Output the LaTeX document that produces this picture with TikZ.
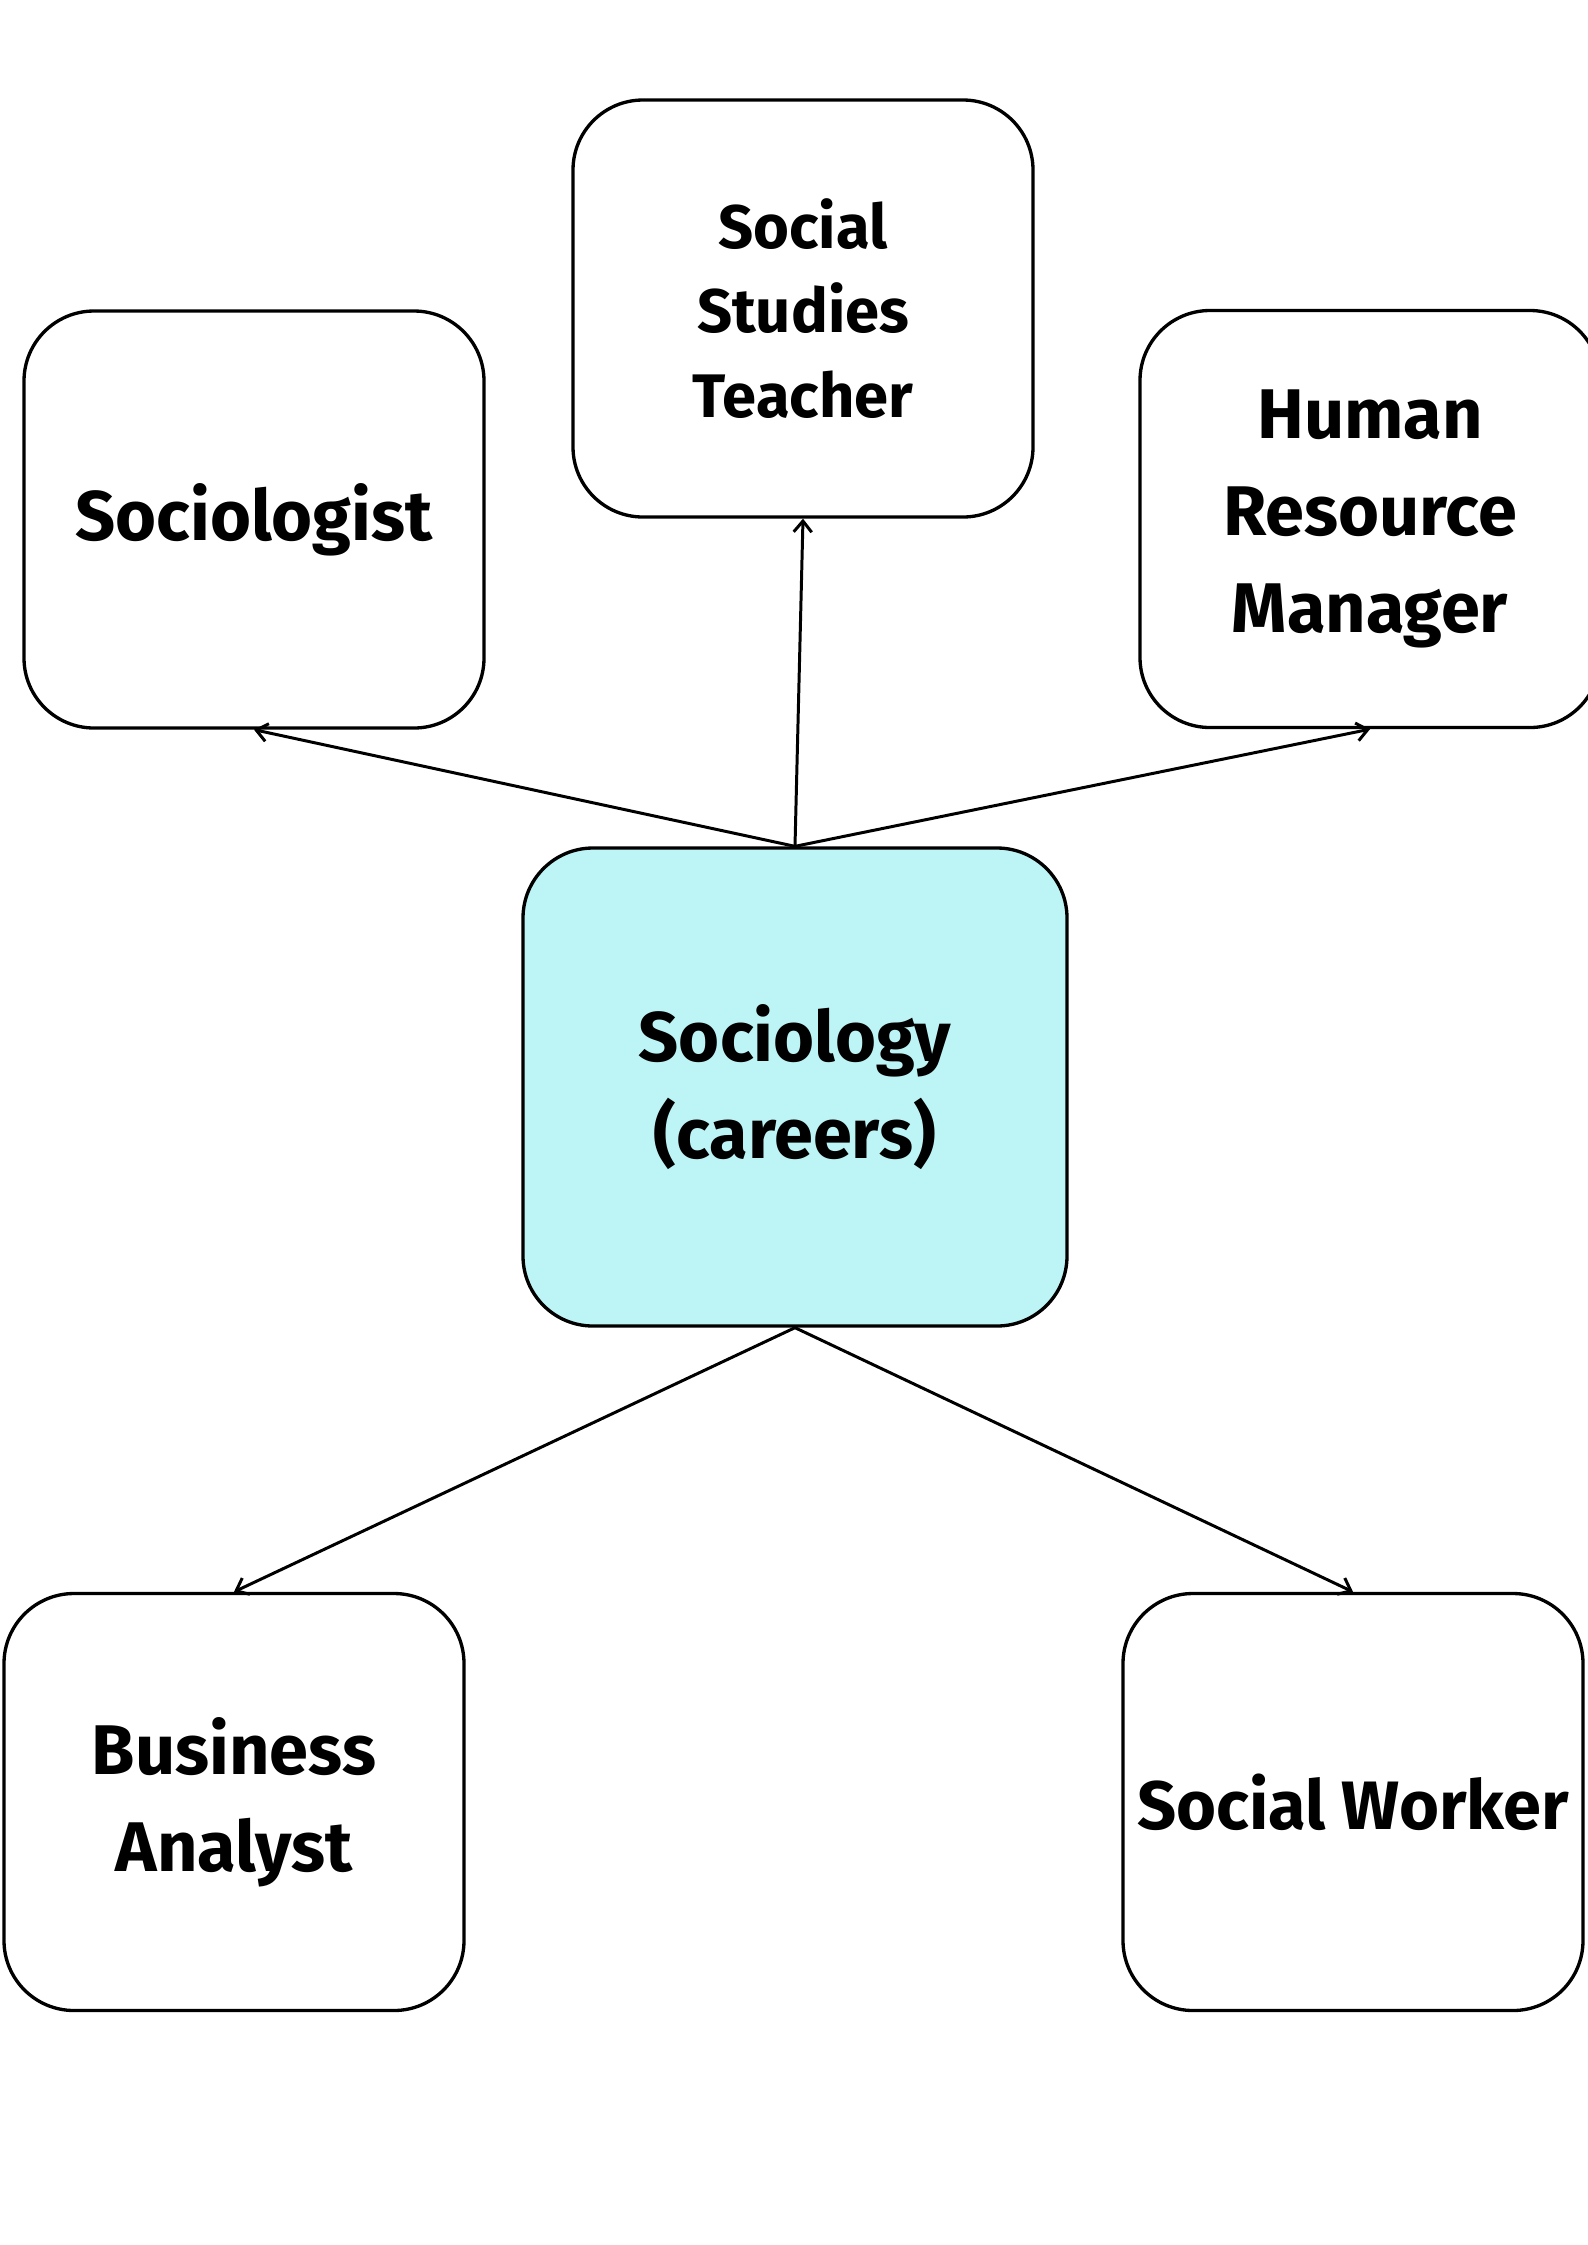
\documentclass[tikz,border=0pt]{standalone}
\usepackage{fontspec}
\setmainfont{Fira Sans}
\usepackage{tikz}
\usetikzlibrary{arrows.meta,positioning}
\definecolor{hubcyan}{RGB}{189,245,247}

\begin{document}
\begin{tikzpicture}[
  job/.style={draw, rounded corners=0.7cm, minimum width=4.6cm, minimum height=4.17cm,
    inner sep=0pt, align=center, line width=0.95pt,
    font=\bfseries\fontsize{20}{27.6}\selectfont},
  hub/.style={job, fill=hubcyan, minimum width=5.44cm, minimum height=4.78cm},
  link/.style={-{Straight Barb[length=1.1mm,width=1.8mm]}, line width=0.85pt}
]
\useasboundingbox (0,0) rectangle (15.87,-22.45);
\node[hub] (hub) at (7.95,-10.87) {Sociology\\(careers)};
\node[job] (soc) at (2.54,-5.195) {Sociologist};
\node[job, font=\bfseries\fontsize{17.5}{24}\selectfont] (teach) at (8.03,-3.085) {Social\\Studies\\Teacher};
\node[job] (hr) at (13.70,-5.19) {Human\\Resource\\Manager};
\node[job] (ba) at (2.34,-18.02) {Business\\Analyst};
\node[job, font=\bfseries\fontsize{19.5}{27}\selectfont] (sw) at (13.53,-18.02) {Social Worker};
\draw[link] (hub.north) -- (soc.south);
\draw[link] (hub.north) -- (teach.south);
\draw[link] (hub.north) -- (hr.south);
\draw[link] (hub.south) -- (ba.north);
\draw[link] (hub.south) -- (sw.north);
\end{tikzpicture}
\end{document}
